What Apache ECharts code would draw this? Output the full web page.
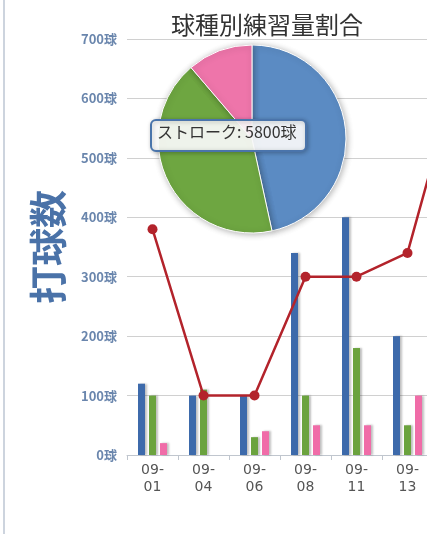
<!DOCTYPE html>
<html>
<head>
  <meta charset="utf-8" />
  <title>球種別練習量割合</title>
  <script src="https://cdn.jsdelivr.net/npm/echarts@6/dist/echarts.min.js"></script>
  <style>
    html, body { margin: 0; padding: 0; background: #fff; overflow: hidden; }
    /* グラフは右側が画面外にはみ出している */
    #main { width: 490px; height: 534px; }
  </style>
</head>
<body>
<div id="main"></div>
<script>
  // 日付（最後の1つは画面の外）
  var days = ['09-01', '09-04', '09-06', '09-08', '09-11', '09-13', '09-15'];
  var yTicks = [0, 100, 200, 300, 400, 500, 600, 700];
  // 棒グラフ
  var blueVals  = [120, 100, 100, 340, 400, 200, 0];
  var greenVals = [100, 110, 30, 100, 180, 50, 0];
  var pinkVals  = [20, 0, 40, 50, 50, 100, 0];
  // 折れ線
  var lineVals = [380, 100, 100, 300, 300, 340, 650];
  // 円グラフ
  var pieNames = ['ストローク', 'ボレー', 'サーブ'];
  var pieVals = [5800, 5250, 1400];
  var pieColors = ['#5b8bc3', '#6ea641', '#ee75aa'];

  var myChart = echarts.init(document.getElementById('main'));

  var barShadow = {
    shadowColor: 'rgba(0,0,0,0.25)',
    shadowOffsetX: 2,
    shadowBlur: 2
  };

  var option = {
    backgroundColor: '#fff',
    animation: false,
    title: {
      text: '球種別練習量割合',
      left: 262,
      textAlign: 'center',
      top: 8,
      textStyle: { fontSize: 24, fontWeight: 'normal', color: '#333', fontFamily: 'Noto Sans CJK JP' }
    },
    grid: { left: 127, top: 39, width: 357, bottom: 79 },
    xAxis: {
      type: 'category',
      data: days,
      axisLine: { lineStyle: { color: '#c0c6ce', width: 1 } },
      axisTick: { show: true, length: 5, lineStyle: { color: '#c0c6ce' } },
      axisLabel: {
        color: '#555',
        fontSize: 14,
        lineHeight: 17,
        margin: 7,
        fontFamily: 'DejaVu Sans',
        formatter: function (v) { return v.replace('-', '-\n'); }
      }
    },
    yAxis: {
      type: 'value',
      min: yTicks[0],
      max: yTicks[yTicks.length - 1],
      interval: 100,
      name: '打球数',
      nameLocation: 'middle',
      nameRotate: 90,
      nameGap: 60,
      nameTextStyle: { fontSize: 38, fontWeight: 'bold', color: '#4a72a8', fontFamily: 'Noto Sans CJK JP' },
      axisLine: { show: false },
      axisTick: { show: false },
      splitLine: { lineStyle: { color: '#d0d0d0' } },
      axisLabel: {
        margin: 10,
        color: '#6a86ad',
        fontSize: 13,
        fontWeight: 'bold',
        fontFamily: 'Noto Sans CJK JP',
        formatter: '{value}球'
      }
    },
    series: [
      { type: 'bar', data: blueVals, barWidth: 7, barGap: '57%',
        itemStyle: Object.assign({ color: '#3d6aab' }, barShadow) },
      { type: 'bar', data: greenVals, barWidth: 7, barGap: '57%',
        itemStyle: Object.assign({ color: '#6ba33e' }, barShadow) },
      { type: 'bar', data: pinkVals, barWidth: 7, barGap: '57%',
        itemStyle: Object.assign({ color: '#f06ca8' }, barShadow) },
      { type: 'line', data: lineVals, z: 5,
        symbol: 'circle', symbolSize: 10,
        lineStyle: { color: '#b3232b', width: 2.5 },
        itemStyle: { color: '#b3232b' } },
      { type: 'pie', z: 10,
        center: [252, 139], radius: 94,
        startAngle: 90, clockwise: true,
        label: { show: false }, labelLine: { show: false },
        itemStyle: { borderColor: '#fff', borderWidth: 1,
          shadowColor: 'rgba(0,0,0,0.3)', shadowBlur: 6, shadowOffsetX: 1, shadowOffsetY: 1 },
        data: pieNames.map(function (n, i) {
          return { name: n, value: pieVals[i], itemStyle: { color: pieColors[i] } };
        })
      }
    ],
    graphic: [
      { type: 'rect', left: 3, top: 0, z: 100,
        shape: { width: 2, height: 534 }, style: { fill: '#cdd4de' } },
      { type: 'rect', left: 427, top: 0, z: 100,
        shape: { width: 63, height: 534 }, style: { fill: '#fff' } },
      { type: 'rect', left: 150, top: 119, z: 100,
        shape: { width: 155, height: 31, r: 5 },
        style: { fill: 'rgba(255,255,255,0.9)', stroke: '#4a74ab', lineWidth: 2,
          shadowColor: 'rgba(0,0,0,0.25)', shadowBlur: 4, shadowOffsetX: 1, shadowOffsetY: 1 } },
      { type: 'text', left: 157, top: 124, z: 101,
        style: { text: pieNames[0] + ': ' + pieVals[0] + '球', fill: '#333', fontSize: 16,
          fontFamily: 'Noto Sans CJK JP' } }
    ]
  };

  myChart.setOption(option);
</script>
</body>
</html>
